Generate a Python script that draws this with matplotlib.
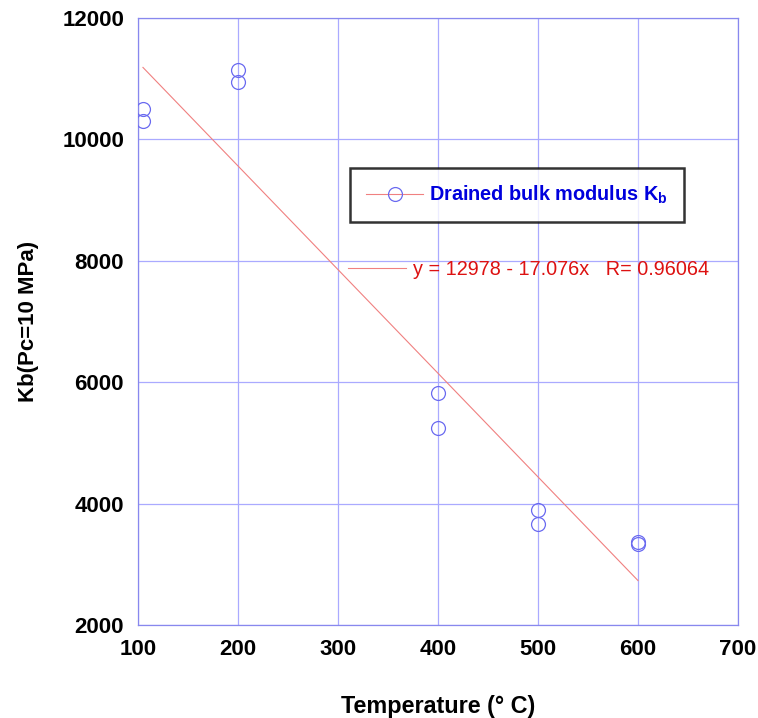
import matplotlib
matplotlib.use("Agg")
import matplotlib.pyplot as plt
from matplotlib.lines import Line2D
import numpy as np

plt.rcParams['font.family'] = ['Liberation Sans', 'DejaVu Sans']
plt.rcParams['mathtext.fontset'] = 'custom'
plt.rcParams['mathtext.rm'] = 'Liberation Sans'
plt.rcParams['mathtext.bf'] = 'Liberation Sans:bold'

temperature = [105, 105, 200, 200, 400, 400, 500, 500, 600, 600]
kb_values = [10500, 10300, 11140, 10945, 5820, 5245, 3890, 3660, 3370, 3335]
fit_intercept = 12978
fit_slope = -17.076
fit_r = 0.96064
fit_range = [105, 600]
xticks = [100, 200, 300, 400, 500, 600, 700]
yticks = [2000, 4000, 6000, 8000, 10000, 12000]

grid_col = '#aaaaff'
spine_col = '#8888ee'
marker_col = '#6a6af0'
line_col = '#f08080'

fig = plt.figure(figsize=(7.58, 7.18), dpi=100)
ax = fig.add_axes([0.182, 0.1295, 0.7916, 0.8455])

fx = np.array(fit_range, dtype=float)
ax.plot(fx, fit_intercept + fit_slope * fx, color=line_col, lw=0.8, zorder=2)
ax.plot(temperature, kb_values, linestyle='none', marker='o', ms=10,
        mfc='none', mec=marker_col, mew=0.9, zorder=3)

ax.set_xlim(100, 700)
ax.set_ylim(2000, 12000)
ax.set_xticks(xticks)
ax.set_yticks(yticks)
ax.grid(True, color=grid_col, lw=0.9)
ax.set_axisbelow(True)
for s in ax.spines.values():
    s.set_color(spine_col)
    s.set_linewidth(0.9)
ax.tick_params(axis='both', direction='in', length=0, labelsize=16, pad=10,
               colors='black')
for lab in ax.get_xticklabels() + ax.get_yticklabels():
    lab.set_fontweight('bold')
ax.set_xlabel('Temperature (° C)', fontsize=16.8, fontweight='bold', labelpad=25)
ax.set_ylabel('Kb(Pc=10 MPa)', fontsize=16, fontweight='bold', labelpad=17)

h1 = Line2D([], [], color=line_col, lw=0.8, marker='o', ms=10, mfc='none',
            mec=marker_col, mew=0.9)
leg1 = ax.legend([h1], [r'Drained bulk modulus K$_\mathbf{b}$'],
                 loc='upper left', bbox_to_anchor=(0.3533, 0.753),
                 borderaxespad=0, frameon=True, fancybox=False,
                 edgecolor='black', prop={'weight': 'bold', 'size': 14.3},
                 handlelength=2.9, handletextpad=0.3, borderpad=0.8,
                 labelcolor='#0000dd')
leg1.get_frame().set_linewidth(1.8)
ax.add_artist(leg1)

h2 = Line2D([], [], color=line_col, lw=0.8)
eq = f'y = {fit_intercept} - {abs(fit_slope)}x   R= {fit_r}'
leg2 = ax.legend([h2], [eq], loc='center left', bbox_to_anchor=(0.35, 0.585),
                 borderaxespad=0, borderpad=0, frameon=False,
                 prop={'size': 14.3}, handlelength=2.9, handletextpad=0.35,
                 labelcolor='#dd1111')

fig.savefig('out.png', dpi=100)
